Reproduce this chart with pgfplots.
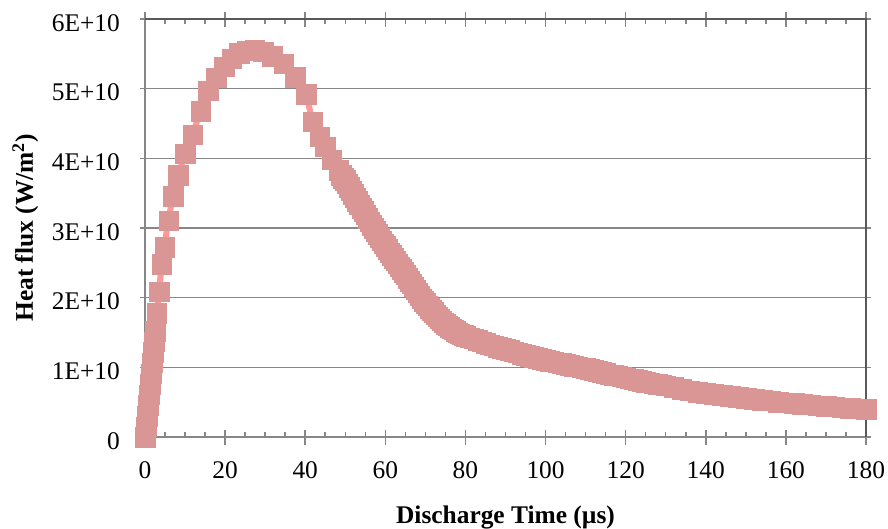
\documentclass[border=0pt]{standalone}
\usepackage{fontspec}
\setmainfont{Liberation Serif}
\usepackage{pgfplots}
\pgfplotsset{compat=1.18}
\definecolor{mk}{HTML}{D99694}
\definecolor{ln}{HTML}{FF9999}
\definecolor{gridc}{HTML}{878787}
\definecolor{bord}{HTML}{595959}
\begin{document}
\begin{tikzpicture}
\begin{axis}[
  scale only axis, width=721bp, height=418bp,
  at={(0,0)}, anchor=south west,
  xmin=0, xmax=180, ymin=0, ymax=6e10,
  clip=false,
  axis line style={draw=gridc, line width=1.5bp},
  every tick/.style={draw=gridc, line width=1.5bp},
  major tick length=5bp, minor tick length=5bp,
  xtick align=inside, ytick align=outside,
  xtick={0,20,...,180},
  xticklabels={0,20,40,60,80,100,120,140,160,180},
  minor x tick num=3,
  extra x ticks={0,20,40,60,80,100,120,140,160,180},
  extra x tick labels={},
  extra x tick style={major tick length=15bp, xtick align=center},
  ytick={0,1e10,2e10,3e10,4e10,5e10,6e10},
  yticklabels={0,1E+10,2E+10,3E+10,4E+10,5E+10,6E+10},
  scaled y ticks=false,
  ymajorgrids, grid style={draw=gridc, line width=1.5bp},
  tick label style={font=\fontsize{25.5}{28}\selectfont},
  xticklabel style={anchor=north, inner sep=0pt, yshift=-24.5bp},
  yticklabel style={anchor=east, inner sep=0pt, xshift=-20bp, yshift=-4bp},
  every axis x label/.style={at={(axis description cs:0.5,0)}, anchor=base, yshift=-86bp, font=\fontsize{25.5}{28}\selectfont\bfseries},
  every axis y label/.style={at={(axis description cs:0,0.5)}, rotate=90, anchor=base, yshift=112bp, font=\fontsize{25.5}{28}\selectfont\bfseries},
  xlabel={Discharge Time (µs)},
  ylabel={Heat flux (W/m\textsuperscript{2})},
]
\addplot[forget plot, draw=bord, line width=1.5bp] coordinates {(0,6e10) (180,6e10) (180,0)};
\addplot[draw=ln, line width=6bp, mark=square*, mark size=9.75bp, mark options={fill=mk, draw=mk, line width=0.1bp, solid}] coordinates {
(0,0) (0.25,0.15e10) (0.5,0.30e10) (0.75,0.46e10) (1.0,0.61e10) (1.25,0.76e10) (1.5,0.91e10) (1.75,1.07e10) (2.0,1.22e10) (2.25,1.37e10) (2.5,1.52e10)
(2.92,1.78e10) (3.5,2.09e10) (4.17,2.48e10) (4.82,2.73e10) (5.82,3.11e10) (6.99,3.46e10) (8.31,3.76e10) (9.99,4.07e10) (11.91,4.34e10) (13.81,4.68e10)
(15.80,4.97e10) (17.80,5.16e10) (19.72,5.32e10) (21.64,5.43e10) (23.54,5.51e10) (25.46,5.55e10) (27.29,5.56e10) (29.53,5.53e10) (31.78,5.47e10)
(34.53,5.36e10) (37.45,5.17e10) (40.19,4.92e10) (41.87,4.53e10) (43.52,4.31e10) (44.9,4.17e10) (46.6,3.98e10) (48.3,3.83e10)
(49,3.76e10) (49.5,3.72e10) (50,3.69e10) (50.5,3.64e10) (51,3.59e10) (51.5,3.54e10) (52,3.49e10) (52.5,3.44e10) (53,3.39e10) (53.5,3.34e10)
(54,3.29e10) (54.5,3.24e10) (55,3.19e10) (55.5,3.14e10) (56,3.09e10) (56.5,3.045e10) (57,3.00e10) (57.5,2.955e10) (58,2.91e10) (58.5,2.865e10)
(59,2.82e10) (59.5,2.78e10) (60,2.74e10) (60.5,2.695e10) (61,2.65e10) (61.5,2.61e10) (62,2.57e10) (62.5,2.53e10) (63,2.49e10) (63.5,2.45e10)
(64,2.41e10) (64.5,2.37e10) (65,2.33e10) (65.5,2.285e10) (66,2.24e10) (66.5,2.20e10) (67,2.16e10) (67.5,2.115e10) (68,2.07e10) (68.5,2.03e10)
(69,1.99e10) (69.5,1.955e10) (70,1.92e10) (70.5,1.885e10) (71,1.85e10) (71.5,1.82e10) (72,1.79e10) (72.5,1.76e10) (73,1.73e10) (73.5,1.70e10)
(74,1.67e10) (74.5,1.645e10) (75,1.62e10) (75.5,1.60e10) (76,1.58e10) (76.5,1.56e10) (77,1.54e10) (77.5,1.52e10) (78,1.50e10) (78.5,1.485e10)
(79,1.47e10) (79.5,1.46e10) (80,1.45e10)
(81,1.43e10) (82,1.41e10) (83,1.39e10) (84,1.37e10) (85,1.35e10) (86,1.33e10) (87,1.31e10) (88,1.29e10) (89,1.275e10) (90,1.26e10)
(91,1.245e10) (92,1.23e10) (93,1.21e10) (94,1.19e10) (95,1.175e10) (96,1.16e10) (97,1.145e10) (98,1.13e10) (99,1.12e10) (100,1.105e10)
(101,1.09e10) (102,1.08e10) (103,1.07e10) (104,1.06e10) (105,1.045e10) (106,1.03e10) (107,1.02e10) (108,1.01e10) (109,1.00e10) (110,0.99e10)
(111,0.975e10) (112,0.96e10) (113,0.945e10) (114,0.93e10) (115,0.915e10) (116,0.90e10) (117,0.89e10) (118,0.88e10) (119,0.865e10) (120,0.85e10)
(121,0.84e10) (122,0.83e10) (123,0.815e10) (124,0.80e10) (125,0.79e10) (126,0.78e10) (127,0.77e10) (128,0.76e10) (129,0.75e10) (130,0.74e10)
(132,0.715e10) (134,0.69e10) (136,0.67e10) (138,0.645e10) (140,0.63e10)
(142,0.615e10) (144,0.60e10) (146,0.585e10) (148,0.57e10) (150,0.56e10) (152,0.545e10) (154,0.53e10) (156,0.52e10) (158,0.505e10) (160,0.495e10)
(162,0.485e10) (164,0.475e10) (166,0.465e10) (168,0.455e10) (170,0.445e10) (172,0.435e10) (174,0.425e10) (176,0.415e10) (178,0.405e10) (180,0.40e10)
};
\end{axis}
\pgfresetboundingbox
\path[use as bounding box] (-145bp,-92bp) rectangle (743bp,437bp);
\end{tikzpicture}
\end{document}
